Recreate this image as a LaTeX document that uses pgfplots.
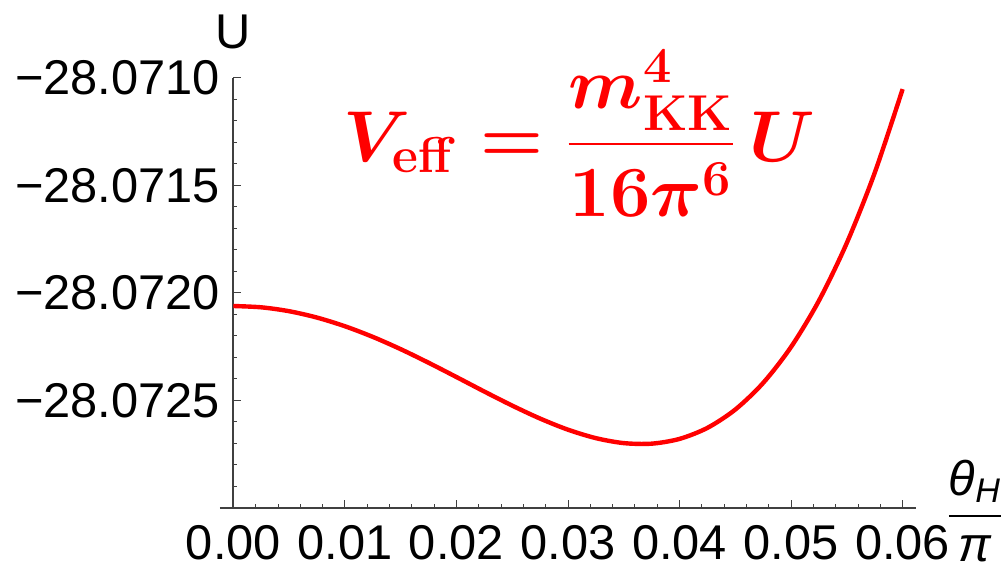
\RequirePackage{fix-cm}
\documentclass[border=0pt]{standalone}
\usepackage{pgfplots}
\pgfplotsset{compat=1.18}
\usepackage{amsmath}
\usepackage{fontspec}
\newfontfamily\lib{Liberation Sans}
\begin{document}
\begin{tikzpicture}
% y values stored as (U + 28.07) x 10^4 to keep full precision
\begin{axis}[
  scale only axis, width=348pt, height=215pt,
  at={(0,0)}, anchor=south west,
  xmin=-0.0012, xmax=0.0612, ymin=-30, ymax=-10,
  axis x line*=bottom, axis y line*=middle,
  hide obscured x ticks=false, hide obscured y ticks=false,
  axis line style={black!75, line width=1pt},
  tick style={black!75, line width=0.5pt},
  tick align=inside,
  major tick length=4pt, minor tick length=2pt,
  xtick={0,0.01,0.02,0.03,0.04,0.05,0.06},
  xticklabels={0.00,0.01,0.02,0.03,0.04,0.05,0.06},
  minor xtick={0.002,0.004,0.006,0.008,0.012,0.014,0.016,0.018,0.022,0.024,0.026,0.028,0.032,0.034,0.036,0.038,0.042,0.044,0.046,0.048,0.052,0.054,0.056,0.058},
  ytick={-25,-20,-15,-10},
  yticklabels={−28.0725,−28.0720,−28.0715,−28.0710},
  minor ytick={-29,-28,-27,-26,-24,-23,-22,-21,-19,-18,-17,-16,-14,-13,-12,-11},
  ticklabel style={font=\lib\fontsize{24.4}{29}\selectfont, inner sep=0pt},
  xticklabel style={anchor=north, yshift=-8.5pt},
  yticklabel style={anchor=east, xshift=-6.5pt},
  clip=false,
]
\addplot[red, line width=2.2pt, smooth] coordinates {
  (0.0000, -20.605)
  (0.0025, -20.666)
  (0.0050, -20.847)
  (0.0075, -21.144)
  (0.0100, -21.546)
  (0.0125, -22.041)
  (0.0150, -22.613)
  (0.0175, -23.244)
  (0.0200, -23.909)
  (0.0225, -24.584)
  (0.0250, -25.238)
  (0.0275, -25.841)
  (0.0300, -26.358)
  (0.0325, -26.751)
  (0.0350, -26.982)
  (0.0375, -27.008)
  (0.0400, -26.786)
  (0.0425, -26.273)
  (0.0450, -25.420)
  (0.0475, -24.181)
  (0.0500, -22.508)
  (0.0525, -20.354)
  (0.0550, -17.669)
  (0.0575, -14.406)
  (0.0600, -10.517)
};
\end{axis}
\node[inner sep=0pt, font={\lib\fontsize{24.4}{29}\selectfont}] at (6.5pt,238pt) {U};
\node[inner sep=0pt, font={\fontsize{24.4}{29}\selectfont\lib}] at (377.5pt,-1.5pt) {$\displaystyle\frac{\text{\lib\itshape θ}_{\text{\lib\itshape H}}}{\text{\lib\itshape π}}$};
\node[inner sep=0pt, anchor=base west, text=red, font={\fontsize{36}{43}\selectfont\boldmath}] at (61.5pt,173pt) {$\displaystyle V_{\mathbf{eff}} = \frac{m_{\mathbf{KK}}^{4}}{16\pi^{6}}\,U$};
\pgfresetboundingbox
\path[use as bounding box] (-110pt,-32pt) rectangle (392.5pt,254pt);
\end{tikzpicture}
\end{document}
